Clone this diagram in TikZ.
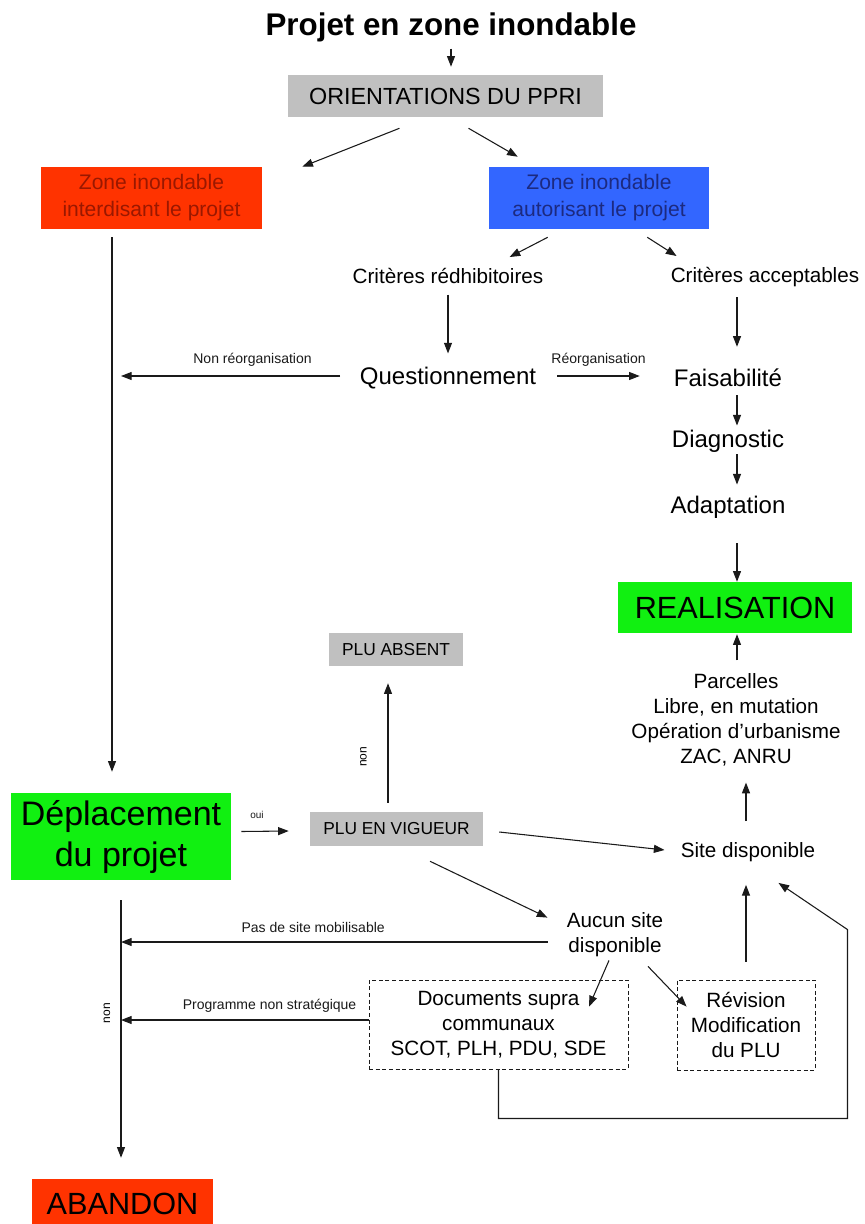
\documentclass[tikz,border=0pt]{standalone}
\usepackage{fontspec}
\setmainfont{Liberation Sans}
\usepackage{xcolor}
\usepackage{tikz}
\usetikzlibrary{positioning, arrows.meta, calc}
\definecolor{floodred}{HTML}{FF3300}
\definecolor{floodtext}{HTML}{9A1800}
\definecolor{zoneblue}{HTML}{3366FF}
\definecolor{zonetext}{HTML}{1C2A80}
\definecolor{okgreen}{HTML}{11F011}
\definecolor{plugray}{HTML}{C0C0C0}
\definecolor{ink}{HTML}{1A1A1A}

\begin{document}
\begin{tikzpicture}[x=0.75pt, y=-0.75pt,
  arr/.style={-{Triangle[length=8pt, width=6pt]}, ink, line width=0.8pt},
  lbl/.style={font=\fontsize{10.5}{12}\selectfont, inner sep=0pt},
  mid/.style={font=\fontsize{15.5}{18.75}\selectfont, align=center, inner sep=0pt},
  big/.style={font=\fontsize{18}{21}\selectfont, inner sep=0pt},
  colbox/.style={align=center, inner sep=0pt, font=\fontsize{15.8}{20.25}\selectfont},
  graybox/.style={fill=plugray, inner sep=0pt, font=\fontsize{13}{15}\selectfont},
  dashbox/.style={draw=ink, dash pattern=on 3pt off 2pt, line width=0.7pt, align=center, inner sep=0pt, font=\fontsize{15.5}{18.75}\selectfont}]
  \fill[white] (0,0) rectangle (864,1224);
  \useasboundingbox (0,0) rectangle (864,1224);

  \node[font=\fontsize{23.5}{27}\selectfont\bfseries, inner sep=0pt] (title) at (451,27) {Projet en zone inondable};
  \node[graybox, minimum width=236pt, minimum height=31.5pt, font=\fontsize{17.5}{21}\selectfont] (orient) at (445.5,96) {ORIENTATIONS DU PPRI};
  \node[colbox, fill=floodred, text=floodtext, minimum width=165.75pt, minimum height=46.5pt] (redbox) at (151.5,198) {Zone inondable\\interdisant le projet};
  \node[colbox, fill=zoneblue, text=zonetext, minimum width=165pt, minimum height=46.5pt] (bluebox) at (599,198) {Zone inondable\\autorisant le projet};
  \node[mid] (critr) at (448,276) {Critères rédhibitoires};
  \node[mid] (crita) at (765,277) {Critères acceptables};
  \node[big] (quest) at (448,378) {Questionnement};
  \foreach \n/\y/\t in {faisa/378/Faisabilité, diag/441/Diagnostic, adapt/507/Adaptation}
    \node[big] (\n) at (728,\y) {\t};
  \node[fill=okgreen, minimum width=175.5pt, minimum height=38.25pt, inner sep=0pt, font=\fontsize{23}{27}\selectfont] (real) at (735,607.5) {REALISATION};
  \node[graybox, minimum width=100.5pt, minimum height=24.75pt] (plua) at (396,649.5) {PLU ABSENT};
  \node[mid] (parc) at (736,720) {Parcelles\\Libre, en mutation\\Opération d'urbanisme\\ZAC, ANRU};
  \node[mid] (site) at (748,852) {Site disponible};
  \node[fill=okgreen, minimum width=165pt, minimum height=65.25pt, inner sep=0pt, align=center, font=\fontsize{25.5}{30.75}\selectfont] (depl) at (121,836.5) {Déplacement\\du projet};
  \node[graybox, minimum width=129.75pt, minimum height=25.5pt] (pluv) at (396.5,829) {PLU EN VIGUEUR};
  \node[mid] (aucun) at (615,935) {Aucun site\\disponible};
  \node[dashbox, minimum width=194.25pt, minimum height=66.75pt] (docs) at (498.5,1024.5) {Documents supra\\communaux\\SCOT, PLH, PDU, SDE};
  \node[dashbox, minimum width=103.5pt, minimum height=67.5pt] (rev) at (746,1025) {Révision\\Modification\\du PLU};
  \node[fill=floodred, minimum width=135.75pt, minimum height=37.5pt, inner sep=0pt, font=\fontsize{23}{27}\selectfont] (aband) at (122.5,1204) {ABANDON};

  \draw[arr, shorten <=5pt, shorten >=6pt] (title.south) -- (title.south |- orient.north);
  \draw[arr] ($(orient.south)+(-46,11)$) -- ($(redbox.north east)+(40,0)$);
  \draw[arr] ($(orient.south)+(23,11)$) -- ($(bluebox.north west)+(29,-10)$);
  \draw[arr] ($(bluebox.south west)+(59,8)$) -- ($(critr.north east)+(-34,-11)$);
  \draw[arr] ($(bluebox.south east)+(-62,8)$) -- ($(crita.north west)+(6,-11)$);
  \draw[arr, shorten <=8pt, shorten >=10pt] (critr) -- (quest);
  \draw[arr] ($(crita.south)+(-28,10)$) -- ($(faisa.north)+(9,-22)$);
  \foreach \a/\b/\s/\e in {faisa/diag/8/4, diag/adapt/2/11}
    \draw[arr] ($(\a.south)+(9,\s)$) -- ($(\b.north)+(9,-\e)$);
  \draw[arr] ($(adapt.south)+(9,25)$) -- ($(real.north)+(2,0)$);
  \draw[arr] ($(quest.west)+(-19.5,-2)$) -- ($(quest.west -| depl.center)+(0,-2)$)
    node[lbl, above=7pt, pos=0.4] {Non réorganisation};
  \draw[arr] ($(quest.east)+(21,-2)$) -- ($(faisa.west)+(-34,-2)$)
    node[lbl, above=7pt, midway] {Réorganisation};
  \draw[arr] ($(redbox.south)+(-39.5,8)$) -- ($(depl.north)+(-9,-21)$);

  \draw[arr] ($(parc.north)+(1,-13)$) -- ($(real.south)+(2,1)$);
  \draw[arr] ($(site.north)+(-2,-21)$) -- ($(parc.south)+(10,16)$);
  \draw[arr] ($(depl.east)+(10,-5)$) -- ($(pluv.west)+(-21,2)$)
    node[lbl, above=9pt, pos=0.33, font=\fontsize{7.5}{9}\selectfont] {oui};
  \draw[arr] ($(pluv.north)+(-8.5,-9)$) -- ($(plua.south)+(-8,17)$);
  \node[lbl, rotate=90, font=\fontsize{9}{11}\selectfont] (nona) at ($(pluv.north)+(-33,-55)$) {non};
  \draw[arr] ($(pluv.east)+(16,3)$) -- ($(site.west)+(-16,-2)$);
  \draw[arr] ($(pluv.south)+(33.5,15)$) -- ($(aucun.north west)+(-19,5)$);

  \draw[arr] ($(depl.south)+(0,20)$) -- ($(aband.north)+(-1.5,-21)$);
  \node[lbl, rotate=90, font=\fontsize{9}{11}\selectfont] (nonb) at ($(depl.south)+(-14,133)$) {non};
  \draw[arr] ($(aucun.west)+(-18.5,7)$) -- ($(aucun.west -| depl.center)+(0,7)$)
    node[lbl, above=7pt, pos=0.55] {Pas de site mobilisable};
  \draw[arr] ($(aucun.south)+(-6,3)$) -- ($(docs.north)+(90.5,27)$);
  \draw[arr] ($(aucun.south)+(33,9)$) -- ($(rev.north west)+(10,27)$);
  \draw[arr] ($(docs.west)+(0,-4.5)$) -- ($(docs.west -| depl.center)+(0,-4.5)$)
    node[lbl, above=5.5pt, pos=0.4] {Programme non stratégique};
  \draw[arr] ($(rev.north)+(0,-18)$) -- ($(site.south)+(-2,23)$);
  \coordinate (loopc) at ($(rev.north east)+(32,-50)$);
  \draw[arr] (docs.south) -- ++(0,49) -| (loopc) -- ($(site.south east)+(-37,21)$);
\end{tikzpicture}
\end{document}
